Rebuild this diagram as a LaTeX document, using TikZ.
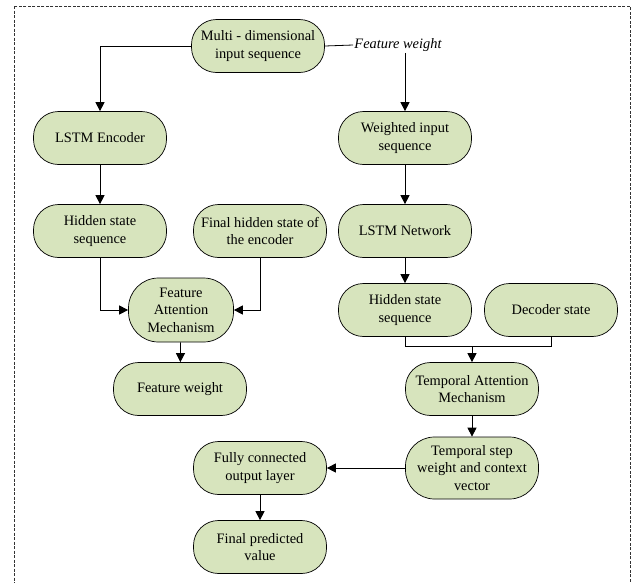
\documentclass[tikz,border=0pt]{standalone}
\usepackage{fontspec}
\setmainfont{Liberation Serif}
\usetikzlibrary{arrows.meta}
\definecolor{boxgreen}{HTML}{D7E4BD}
\begin{document}
\begin{tikzpicture}[x=1pt,y=-1pt,
    box/.style={draw=black,fill=boxgreen,line width=0.7pt,rounded corners=25pt,
      align=center,minimum width=133pt,minimum height=53pt,inner sep=1pt,
      font=\fontsize{14.4}{17.5}\selectfont},
    >={Triangle[length=9pt,width=9pt]},line width=0.8pt]
      \useasboundingbox (0,0) rectangle (632,582);
      \draw[dash pattern=on 3pt off 1.5pt,line width=0.6pt,black!80] (14,6) rectangle (630,600);
      \draw
        (258,46) node[box] (in){Multi - dimensional\\input sequence}
        (398,45) node[inner sep=1pt,font=\fontsize{14.4}{17.5}\selectfont\itshape] (lbl){Feature weight}
        (100,138) node[box] (enc){LSTM Encoder}
        (405,138) node[box] (win){Weighted input\\sequence}
        (100,231) node[box] (hs1){Hidden state\\sequence}
        (260,231) node[box] (fin){Final hidden state of\\the encoder}
        (405,231) node[box] (net){LSTM Network}
        (181,310) node[box,minimum width=105pt,minimum height=64pt,rounded corners=30pt] (fam){Feature\\Attention\\Mechanism}
        (405,310) node[box] (hs2){Hidden state\\sequence}
        (551,310) node[box] (dec){Decoder state}
        (180,389) node[box] (fw){Feature weight}
        (472,389) node[box] (tam){Temporal Attention\\Mechanism}
        (472,468) node[box,minimum height=62pt,rounded corners=29pt] (tsw){Temporal step\\weight and context\\vector}
        (260,468) node[box] (fc){Fully connected\\output layer}
        (260,547) node[box] (fp){Final predicted\\value};
      \draw (in.east) -- (lbl.west);
      \draw (hs2.south) -- ++(0,10) coordinate (join) -| (dec.south);
      \begin{scope}[->]
        \draw (in.west) -| (enc.north);
        \draw (lbl.south -| win.north) -- (win.north);
        \draw (enc) -- (hs1);
        \draw (win) -- (net);
        \draw (hs1.south) |- (fam.west);
        \draw (fin.south) |- (fam.east);
        \draw (net) -- (hs2);
        \draw (fam) -- (fw);
        \draw (join -| tam.north) -- (tam.north);
        \draw (tam) -- (tsw);
        \draw (tsw) -- (fc);
        \draw (fc) -- (fp);
      \end{scope}
    \end{tikzpicture}
\end{document}
